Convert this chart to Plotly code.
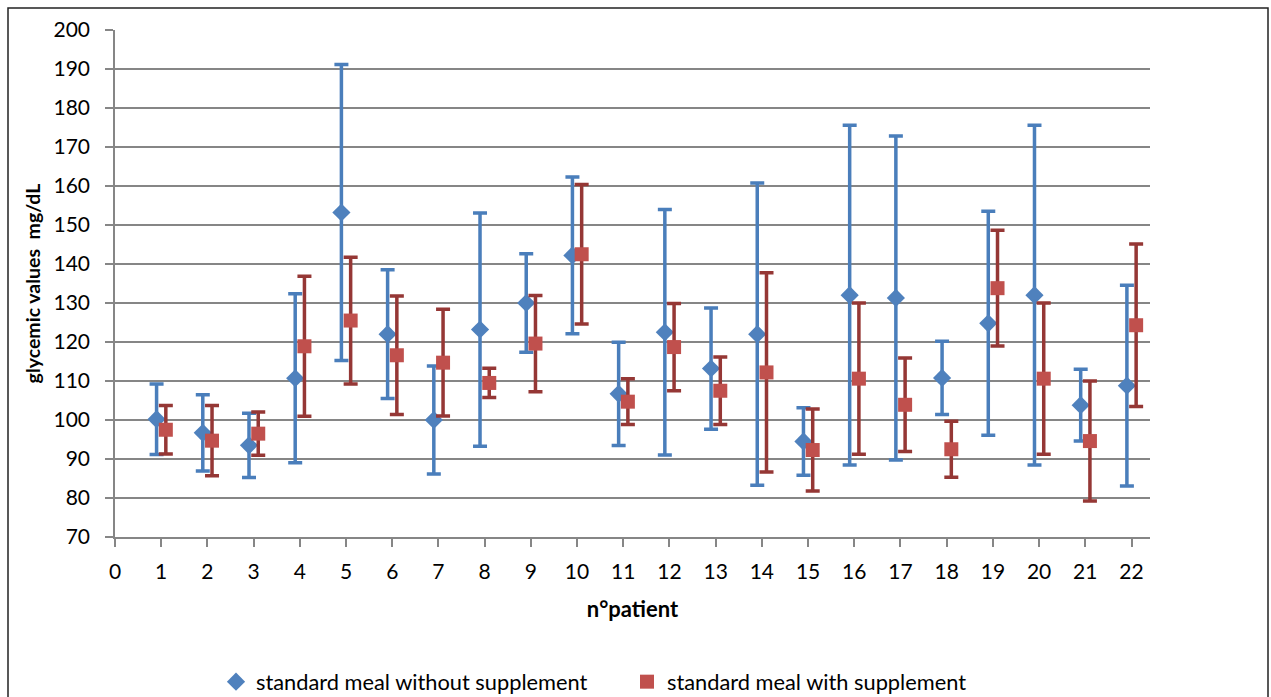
import plotly.graph_objects as go

patients = list(range(1, 23))

mean_without = [100.2, 96.7, 93.5, 110.7, 153.2, 122.0, 100.0, 123.2, 130.0, 142.2, 106.7,
                122.5, 113.2, 122.0, 94.5, 132.0, 131.3, 110.8, 124.8, 132.0, 103.8, 108.8]
sd_without = [9.05, 9.75, 8.25, 21.65, 37.95, 16.5, 13.85, 29.9, 12.6, 20.1, 13.25,
              31.5, 15.55, 38.75, 8.65, 43.55, 41.55, 9.4, 28.7, 43.55, 9.2, 25.75]

mean_with = [97.5, 94.7, 96.5, 118.9, 125.5, 116.6, 114.7, 109.5, 119.6, 142.5, 104.7,
             118.7, 107.5, 112.2, 92.3, 110.6, 103.9, 92.5, 133.8, 110.6, 94.6, 124.3]
sd_with = [6.2, 9.0, 5.55, 17.95, 16.25, 15.2, 13.7, 3.75, 12.35, 17.9, 5.85,
           11.2, 8.65, 25.55, 10.5, 19.4, 12.0, 7.15, 14.85, 19.4, 15.4, 20.85]

x_ticks = list(range(0, 23))
y_ticks = list(range(70, 201, 10))

FONT = "Lato"
offset = 0.1

fig = go.Figure()
fig.add_trace(go.Scatter(
    x=[p - offset for p in patients], y=mean_without, mode="markers",
    name="standard meal without supplement",
    marker=dict(symbol="diamond", size=14, color="#4F81BD"),
    error_y=dict(type="data", array=sd_without, visible=True,
                 color="#4A7EBB", thickness=3.5, width=7),
))
fig.add_trace(go.Scatter(
    x=[p + offset for p in patients], y=mean_with, mode="markers",
    name="standard meal with supplement",
    marker=dict(symbol="square", size=14, color="#C0504D"),
    error_y=dict(type="data", array=sd_with, visible=True,
                 color="#953735", thickness=3.5, width=7),
))

L, R, T, B = 115, 121, 30, 160
W, H = 1271, 697
pw = W - L - R
ph = H - T - B

def px_x(p):
    return (p - L) / pw

def px_y(p):
    return (H - B - p) / ph

fig.update_layout(
    width=W, height=H,
    margin=dict(l=L, r=R, t=T, b=B, autoexpand=False),
    paper_bgcolor="white", plot_bgcolor="white",
    font=dict(family=FONT, size=21, color="black"),
    showlegend=True,
    legend=dict(orientation="h", x=px_x(216), y=px_y(682), xanchor="left", yanchor="middle",
                font=dict(family=FONT, size=21.8, color="black"),
                itemwidth=30, tracegroupgap=0, bgcolor="rgba(0,0,0,0)",
                entrywidth=366, entrywidthmode="pixels"),
    xaxis=dict(range=[0, 22.4], tickmode="array", tickvals=x_ticks,
               showgrid=False, zeroline=False, showline=True, linecolor="#868686", linewidth=1.5,
               ticks="outside", ticklen=8, tickwidth=1.5, tickcolor="#868686",
               tickfont=dict(family=FONT, size=21), ticklabelstandoff=7,
               title=dict(text="<b>n°patient</b>", font=dict(family=FONT, size=22), standoff=20)),
    yaxis=dict(range=[70, 200], tickmode="array", tickvals=y_ticks,
               showgrid=True, gridcolor="#868686", gridwidth=1.5, zeroline=False,
               showline=True, linecolor="#868686", linewidth=1.5,
               ticks="outside", ticklen=8, tickwidth=1.5, tickcolor="#868686",
               tickfont=dict(family=FONT, size=21), ticklabelstandoff=11,
               title=dict(text="<b>glycemic values\u00a0\u00a0mg/dL</b>", font=dict(family=FONT, size=19.5), standoff=8)),
    shapes=[dict(type="rect", xref="paper", yref="paper",
                 x0=px_x(8), x1=px_x(1268), y0=px_y(720), y1=px_y(8),
                 line=dict(color="#222222", width=1.5), fillcolor="rgba(0,0,0,0)", layer="below")],
)

fig.write_html("out.html", config={"displayModeBar": False},
               post_script="document.body.style.margin='0';document.body.style.overflow='hidden';")
